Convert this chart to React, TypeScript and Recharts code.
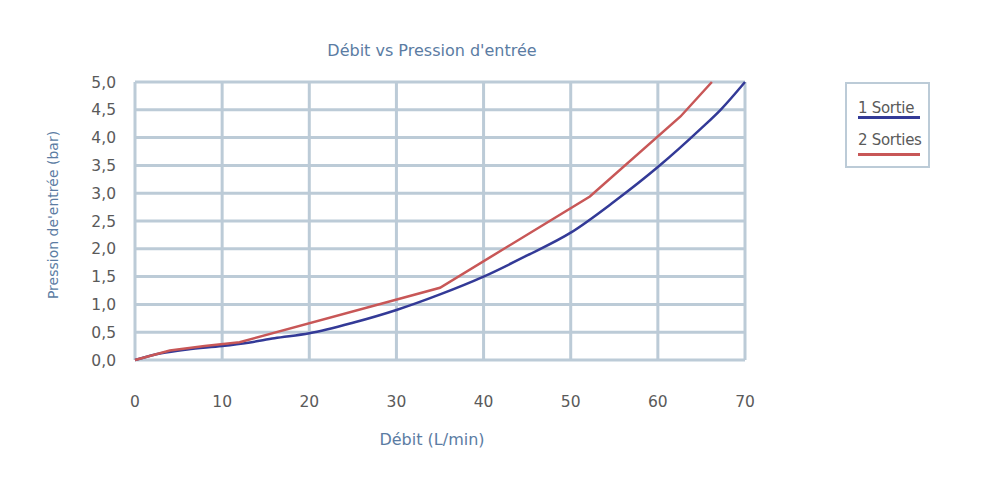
import React from 'react';
import { LineChart, Line, XAxis, YAxis, CartesianGrid, Legend } from 'recharts';

const xTicks = [0, 10, 20, 30, 40, 50, 60, 70];
const yTicks = [0, 0.5, 1, 1.5, 2, 2.5, 3, 3.5, 4, 4.5, 5];

const oneOutletFlow = [0, 3, 6, 10, 13, 16, 20, 25, 30, 35, 40, 45, 50, 55, 60, 65, 67.2, 70];
const oneOutletPressure = [0, 0.12, 0.19, 0.25, 0.31, 0.39, 0.48, 0.67, 0.9, 1.18, 1.5, 1.88, 2.29, 2.85, 3.47, 4.17, 4.5, 5.0];

const twoOutletFlow = [0, 4, 8, 12, 35, 52.2, 62.6, 66.2];
const twoOutletPressure = [0, 0.17, 0.25, 0.32, 1.3, 2.94, 4.38, 5.0];

const seriesNames = ['1 Sortie', '2 Sorties'];
const seriesColors = ['#333a97', '#c85757'];

const oneData = oneOutletFlow.map((x, i) => ({ x, y: oneOutletPressure[i] }));
const twoData = twoOutletFlow.map((x, i) => ({ x, y: twoOutletPressure[i] }));

const FONT = '"DejaVu Sans", sans-serif';
const GRID = '#bccbd7';
const LABEL_BLUE = '#5b7ca3';
const TICK_GREY = '#5a5a5a';

const fmt = (v: number) => v.toFixed(1).replace('.', ',');

const LegendBox = () => (
  <div
    style={{
      width: 85,
      height: 86,
      boxSizing: 'border-box',
      border: `2px solid ${GRID}`,
      fontFamily: FONT,
      fontSize: 15,
      color: TICK_GREY,
      paddingLeft: 11,
      paddingTop: 16,
    }}
  >
    {seriesNames.map((n, i) => (
      <div key={n} style={{ marginBottom: i === 0 ? 13 : 0, width: 62 }}>
        <div style={{ lineHeight: '17px', whiteSpace: 'nowrap', letterSpacing: -0.3 }}>{n}</div>
        <div style={{ height: 3, background: seriesColors[i], marginTop: i === 0 ? -1 : 4 }} />
      </div>
    ))}
  </div>
);

export default function App() {
  return (
    <div style={{ position: 'absolute', left: 0, top: 0, width: 1004, height: 484, background: '#fff' }}>
      <div
        style={{
          position: 'absolute',
          left: 0,
          width: 864,
          top: 41,
          textAlign: 'center',
          fontFamily: FONT,
          fontSize: 16,
          color: LABEL_BLUE,
          zIndex: 2,
        }}
      >
        Débit vs Pression d'entrée
      </div>
      <LineChart
        width={1004}
        height={484}
        margin={{ top: 82, right: 259, left: 35, bottom: 34 }}
      >
        <CartesianGrid stroke={GRID} strokeWidth={3} />
        <XAxis
          type="number"
          dataKey="x"
          domain={[0, 70]}
          ticks={xTicks}
          interval={0}
          axisLine={false}
          tickLine={false}
          tickMargin={30}
          height={90}
          tick={{ fill: TICK_GREY, fontSize: 15.5, fontFamily: FONT }}
          label={{
            content: (props: any) => {
              const vb = props.viewBox || {};
              return (
                <text
                  x={vb.x + vb.width / 2 - 8}
                  y={vb.y + 85}
                  textAnchor="middle"
                  fill={LABEL_BLUE}
                  fontSize={16}
                  fontFamily={FONT}
                >
                  Débit (L/min)
                </text>
              );
            },
          }}
        />
        <YAxis
          type="number"
          dataKey="y"
          domain={[0, 5]}
          ticks={yTicks}
          interval={0}
          axisLine={false}
          tickLine={false}
          tickMargin={13}
          width={100}
          tickFormatter={fmt}
          tick={{ fill: TICK_GREY, fontSize: 15.5, fontFamily: FONT }}
          label={{
            content: (props: any) => {
              const vb = props.viewBox || {};
              const cx = vb.x + 18;
              const cy = vb.y + vb.height / 2 - 6;
              return (
                <text
                  x={cx}
                  y={cy}
                  transform={`rotate(-90 ${cx} ${cy})`}
                  textAnchor="middle"
                  dominantBaseline="central"
                  fill={LABEL_BLUE}
                  fontSize={14}
                  fontFamily={FONT}
                >
                  Pression de'entrée (bar)
                </text>
              );
            },
          }}
        />
        <Legend
          layout="horizontal"
          verticalAlign="middle"
          align="center"
          wrapperStyle={{ left: 845, top: 82, width: 85, height: 86 }}
          content={() => <LegendBox />}
        />
        <Line
          data={oneData}
          dataKey="y"
          name={seriesNames[0]}
          type="monotone"
          stroke={seriesColors[0]}
          strokeWidth={2.5}
          dot={false}
          isAnimationActive={false}
        />
        <Line
          data={twoData}
          dataKey="y"
          name={seriesNames[1]}
          type="linear"
          stroke={seriesColors[1]}
          strokeWidth={2.5}
          dot={false}
          isAnimationActive={false}
        />
      </LineChart>
    </div>
  );
}
